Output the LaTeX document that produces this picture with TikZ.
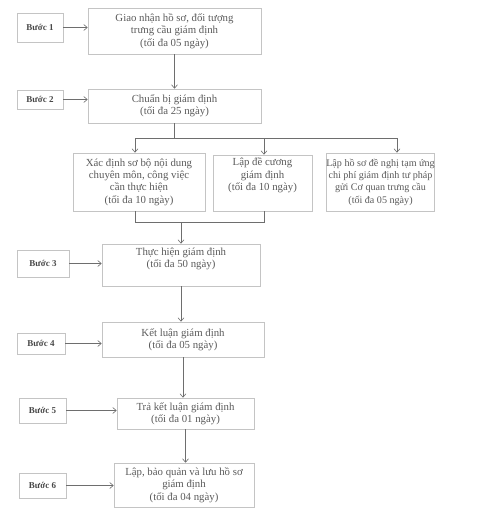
\documentclass[tikz,border=0pt]{standalone}
\usepackage{fontspec}
\setmainfont{Liberation Serif}
\usetikzlibrary{arrows.meta}
\definecolor{txt}{HTML}{5A5A5A}
\definecolor{bord}{HTML}{C4C4C4}
\definecolor{lin}{HTML}{6E6E6E}
\begin{document}
\begin{tikzpicture}[x=1pt,y=-1pt,
  box/.style={draw=bord,line width=0.6pt,rectangle,inner sep=0pt,align=center,text=txt,
    font=\fontsize{10.8}{12.3}\selectfont},
  lbl/.style={draw=bord,line width=0.6pt,rectangle,inner sep=0pt,text=txt!80!black,
    font=\fontsize{9}{10}\selectfont\bfseries},
  tx/.style={inner sep=0pt,align=center,text=txt,anchor=north,font=\fontsize{10.8}{12.3}\selectfont},
  ln/.style={draw=lin,line width=0.6pt},
  arr/.style={ln,-{Straight Barb[length=3.5pt,width=6pt]}}]
\useasboundingbox (0,0) rectangle (478,517);
% main boxes
\node[box,minimum width=173pt,minimum height=46pt] (m1) at (174.5,31) {Giao nhận hồ sơ, đối tượng\\trưng cầu giám định\\(tối đa 05 ngày)};
\node[box,minimum width=173pt,minimum height=34pt] (m2) at (174.5,106) {Chuẩn bị giám định\\(tối đa 25 ngày)};
\node[box,minimum width=132pt,minimum height=58pt] (sA) at (139,182) {Xác định sơ bộ nội dung\\chuyên môn, công việc\\cần thực hiện\\(tối đa 10 ngày)};
\node[box,minimum width=99pt,minimum height=56pt] (sB) at (262.5,183) {};
\node[tx] (sBt) at ([yshift=-3pt]sB.north) {Lập đề cương\\giám định\\(tối đa 10 ngày)};
\node[box,minimum width=105pt,minimum height=58pt,font=\fontsize{10.1}{12.3}\selectfont] (sC) at (380.5,182) {Lập hồ sơ đề nghị tạm ứng\\chi phí giám định tư pháp\\gửi Cơ quan trưng cầu\\(tối đa 05 ngày)};
\node[box,minimum width=158pt,minimum height=42pt] (m3) at (181,265) {};
\node[tx] (m3t) at ([yshift=-4pt]m3.north) {Thực hiện giám định\\(tối đa 50 ngày)};
\node[box,minimum width=162pt,minimum height=35pt] (m4) at (183,339.5) {Kết luận giám định\\(tối đa 05 ngày)};
\node[box,minimum width=137pt,minimum height=31pt] (m5) at (185.5,413.5) {Trả kết luận giám định\\(tối đa 01 ngày)};
\node[box,minimum width=140pt,minimum height=44pt] (m6) at (184,485) {Lập, bảo quản và lưu hồ sơ\\giám định\\(tối đa 04 ngày)};
% step labels
\node[lbl,minimum width=46pt,minimum height=29pt] (b1) at (40,27.5) {Bước 1};
\node[lbl,minimum width=46pt,minimum height=19pt] (b2) at (40,99.5) {Bước 2};
\node[lbl,minimum width=52pt,minimum height=27pt] (b3) at (43,263.5) {Bước 3};
\node[lbl,minimum width=48pt,minimum height=21pt] (b4) at (41,343.5) {Bước 4};
\node[lbl,minimum width=47pt,minimum height=25pt] (b5) at (42.5,410.5) {Bước 5};
\node[lbl,minimum width=47pt,minimum height=25pt] (b6) at (42.5,485.5) {Bước 6};
% step arrows
\draw[arr] (b1.east) -- (b1.east -| m1.west);
\draw[arr] (b2.east) -- (b2.east -| m2.west);
\draw[arr] (b3.east) -- (b3.east -| m3.west);
\draw[arr] (b4.east) -- (b4.east -| m4.west);
\draw[arr] (b5.east) -- (b5.east -| m5.west);
\draw[arr] (b6.east) -- (b6.east -| m6.west);
% flow
\draw[arr] (m1.south) -- (m2.north);
\coordinate (jA) at (135,138);
\coordinate (jC) at (397,138);
\coordinate (jB) at (264,138);
\draw[ln] (m2.south) -- (m2.south |- jA);
\draw[ln] (jA) -- (jC);
\draw[arr] (jA) -- (jA |- sA.north);
\draw[arr] (jB) -- (jB |- sB.north);
\draw[arr] (jC) -- (jC |- sC.north);
\coordinate (kA) at (135,222);
\coordinate (kB) at (264,222);
\draw[ln] (kA |- sA.south) -- (kA) -- (kB) -- (kB |- sB.south);
\draw[arr] (m3.north |- kA) -- (m3.north);
\draw[arr] (m3.south) -- (m3.south |- m4.north);
\draw[arr] (m4.south) -- (m4.south |- m5.north);
\draw[arr] (m5.south) -- (m5.south |- m6.north);
\end{tikzpicture}
\end{document}
